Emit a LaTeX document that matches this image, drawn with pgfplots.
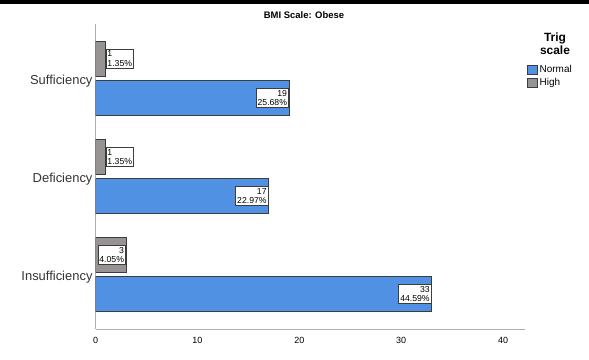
\documentclass[border=0pt]{standalone}
\usepackage{pgfplots}
\pgfplotsset{compat=1.18}
\usepackage{fontspec}
\setmainfont{Liberation Sans}
\definecolor{spssblue}{RGB}{80,145,228}
\definecolor{spssgray}{RGB}{152,147,147}
\definecolor{edge}{RGB}{60,60,60}
\definecolor{axgray}{RGB}{175,175,175}
\tikzset{lbl/.style={draw=edge, line width=0.6bp, fill=white, inner xsep=1.5bp, inner ysep=1.5bp,
    font=\fontsize{8.7}{9.7}\selectfont, text=black}}
\begin{document}
\begin{tikzpicture}[x=1bp,y=1bp]
\path (0,0) rectangle (589,359);
\fill[black] (0,355) rectangle (589,359);
\node[font=\bfseries\fontsize{9.5}{11}\selectfont] at (304,344) {BMI Scale: Obese};
\node[font=\bfseries\fontsize{12}{13}\selectfont, align=center] at (555,315) {Trig\\scale};
\begin{axis}[
  at={(95.5bp,30bp)}, anchor=south west,
  scale only axis, width=429.5bp, height=305bp,
  xmin=0, xmax=42.15, ymin=-0.556, ymax=2.556,
  axis x line*=bottom, axis y line*=left,
  axis line style={axgray, line width=0.8bp, -},
  xtick={0,10,20,30,40}, ytick={0,1,2},
  yticklabels={Insufficiency,Deficiency,Sufficiency},
  major tick length=0pt,
  /pgf/number format/assume math mode=true,
  xticklabel style={font=\fontsize{9}{10}\selectfont, yshift=-4.5bp},
  yticklabel style={font=\fontsize{13}{14}\selectfont, text=black!80, yshift=-2.5bp, xshift=0.5bp},
  xbar, bar width=0.357,
  point meta=x,
  legend style={at={(axis description cs:1.005,0.87)}, anchor=north west, draw=none, fill=none,
    font=\fontsize{10}{11}\selectfont, inner sep=0pt, row sep=1.5bp,
    nodes={inner sep=1.5bp}},
  legend cell align=left,
  legend image code/.code={\draw[#1] (1bp,-4.3bp) rectangle (11bp,4.3bp);},
]
\addplot[fill=spssblue, draw=edge, line width=0.8bp, bar shift=-0.2,
  visualization depends on={value \thisrow{pct}\as\pct},
  nodes near coords={\pgfmathprintnumber{\pgfplotspointmeta}\\\pct\%},
  every node near coord/.append style={lbl, anchor=east, align=right, xshift=-0.3bp}]
  table[x=n, y=cat] {
n cat pct
33 0 44.59
17 1 22.97
19 2 25.68
};
\addlegendentry{Normal}
\addplot[fill=spssgray, draw=edge, line width=0.8bp, bar shift=0.2,
  visualization depends on={value \thisrow{pct}\as\pct},
  nodes near coords={\pgfmathprintnumber{\pgfplotspointmeta}\\\pct\%},
  every node near coord/.append style={lbl, anchor=west, align=left}]
  table[x=n, y=cat] {
n cat pct
1 1 1.35
1 2 1.35
};
\addlegendentry{High}
\addplot[forget plot, fill=spssgray, draw=edge, line width=0.8bp, bar shift=0.2,
  visualization depends on={value \thisrow{pct}\as\pct},
  nodes near coords={\pgfmathprintnumber{\pgfplotspointmeta}\\\pct\%},
  every node near coord/.append style={lbl, anchor=east, align=right, xshift=-0.3bp}]
  table[x=n, y=cat] {
n cat pct
3 0 4.05
};
\end{axis}
\end{tikzpicture}
\end{document}
